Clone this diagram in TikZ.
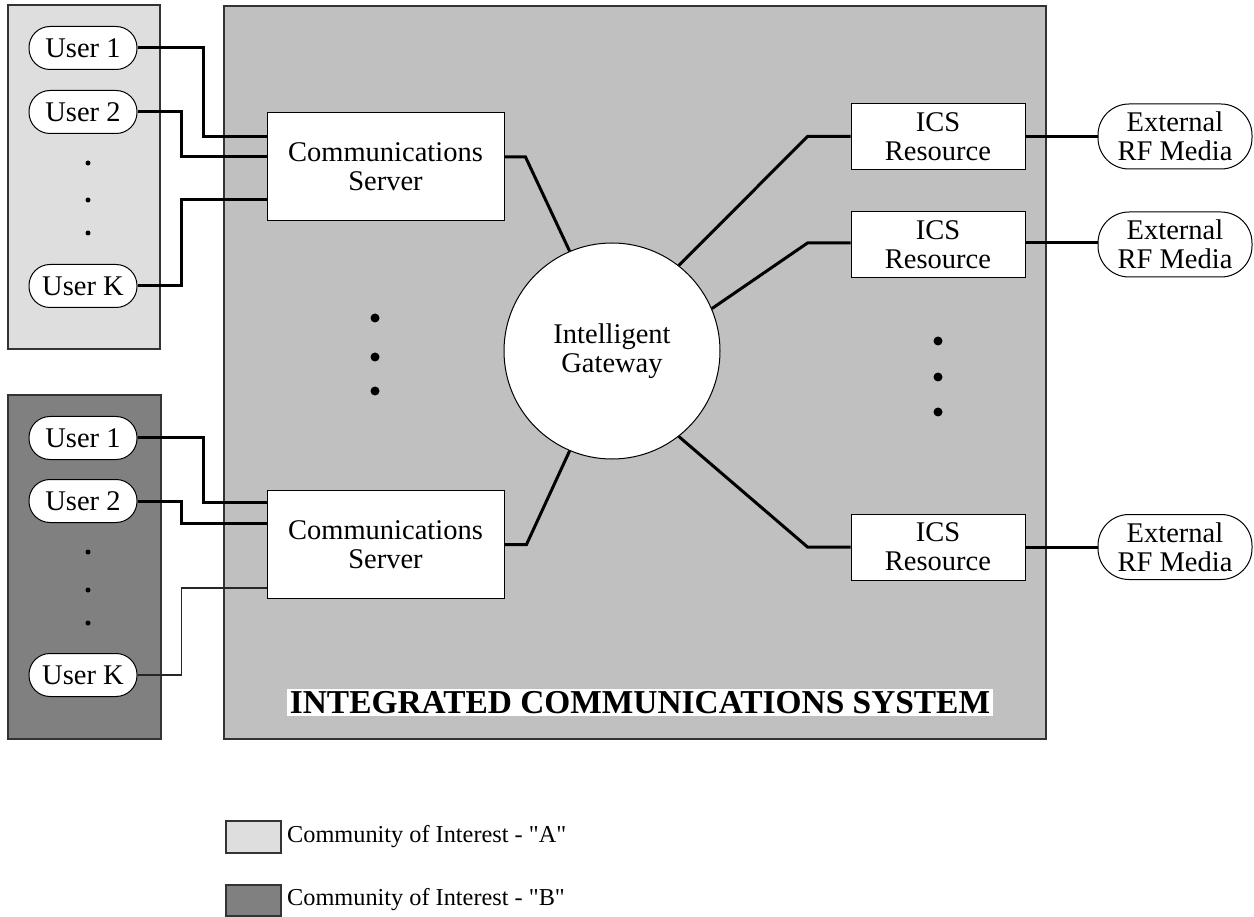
\documentclass[tikz,border=0pt]{standalone}
\usepackage{fontspec}
\setmainfont{Liberation Serif}
\usetikzlibrary{calc}
\definecolor{commA}{HTML}{DEDEDE}
\definecolor{commB}{HTML}{808080}
\definecolor{icsgray}{HTML}{C0C0C0}
\definecolor{edge}{HTML}{333333}
\newcommand{\mainfs}{\fontsize{28.5}{29}\selectfont}
\newcommand{\legfs}{\fontsize{24.3}{26}\selectfont}
\begin{document}
\begin{tikzpicture}[x=1pt,y=-1pt,
  panel/.style={draw=edge, line width=1.3pt},
  userbox/.style={draw=black, line width=1pt, fill=white, rounded corners=21pt,
    minimum width=108pt, minimum height=43pt, inner sep=0pt, font=\mainfs},
  server/.style={draw=black, line width=1pt, fill=white, minimum width=237pt,
    minimum height=108pt, inner sep=0pt, align=center, font=\mainfs},
  resbox/.style={draw=black, line width=1pt, fill=white, minimum width=174pt,
    minimum height=66pt, inner sep=0pt, align=center, font=\mainfs},
  extbox/.style={draw=black, line width=1pt, fill=white, rounded corners=31pt,
    minimum width=154pt, minimum height=65pt, inner sep=0pt, align=center, font=\mainfs},
  gate/.style={circle, draw=black, line width=1pt, fill=white, minimum size=216pt,
    inner sep=0pt, align=center, font=\mainfs},
  wire/.style={line width=3pt, black},
  thinwire/.style={line width=1.4pt, black!85},
  smalldot/.style={circle, fill=black, inner sep=0pt, minimum size=5pt},
  bigdot/.style={circle, fill=black, inner sep=0pt, minimum size=9pt},
  legbox/.style={draw=edge, line width=1.3pt}
]
\useasboundingbox (0,0) rectangle (1254,917);

% background panels
\node[panel, fill=commA, minimum width=152pt, minimum height=344pt, inner sep=0pt] (panA) at (84,177) {};
\node[panel, fill=commB, minimum width=153pt, minimum height=344pt, inner sep=0pt] (panB) at (84.5,567) {};
\node[panel, fill=icsgray, minimum width=822pt, minimum height=733pt, inner sep=0pt] (ics) at (635,372.5) {};

% title
\node[fill=white, inner sep=2.5pt, font=\bfseries\fontsize{33.4}{35}\selectfont] (title) at (640,702.5) {INTEGRATED COMMUNICATIONS SYSTEM};

% users A
\node[userbox] (u1a) at (83,48) {User 1};
\node[userbox] (u2a) at (83,112) {User 2};
\node[userbox] (uka) at (83,286) {User K};
\node[smalldot] (da1) at (88,163) {};
\node[smalldot] (da2) at (88,200) {};
\node[smalldot] (da3) at (88,233) {};

% users B
\node[userbox] (u1b) at (83,438) {User 1};
\node[userbox] (u2b) at (83,501) {User 2};
\node[userbox] (ukb) at (83,675) {User K};
\node[smalldot] (db1) at (88,552) {};
\node[smalldot] (db2) at (88,590) {};
\node[smalldot] (db3) at (88,623) {};

% servers
\node[server] (csa) at (385.5,167) {Communications\\Server};
\node[server] (csb) at (385.5,544.5) {Communications\\Server};

% gateway
\node[gate] (gw) at (612,351) {Intelligent\\Gateway};

% resources
\node[resbox] (r1) at (938,136.5) {ICS\\Resource};
\node[resbox] (r2) at (938,245) {ICS\\Resource};
\node[resbox] (r3) at (938,547) {ICS\\Resource};

% external media
\node[extbox] (e1) at (1175,136.5) {External\\RF Media};
\node[extbox] (e2) at (1175,244.5) {External\\RF Media};
\node[extbox] (e3) at (1175,547) {External\\RF Media};

% middle dots
\node[bigdot] (m1) at (375,318) {};
\node[bigdot] (m2) at (375,357) {};
\node[bigdot] (m3) at (375,391) {};
\node[bigdot] (n1) at (938,341) {};
\node[bigdot] (n2) at (938,377) {};
\node[bigdot] (n3) at (938,412) {};

% entry points on the servers
\coordinate (csa1) at ($(csa.west)+(0,-30)$);
\coordinate (csa2) at ($(csa.west)+(0,-10)$);
\coordinate (csa3) at ($(csa.west)+(0,33)$);
\coordinate (csaR) at ($(csa.east)+(0,-10)$);
\coordinate (csb1) at ($(csb.west)+(0,-42.5)$);
\coordinate (csb2) at ($(csb.west)+(0,-21.5)$);
\coordinate (csb3) at ($(csb.west)+(0,43.5)$);

% connectors A
\draw[wire] (u1a.east) -- ++(66,0) |- (csa1);
\draw[wire] (u2a.east) -- ++(44,0) |- (csa2);
\draw[wire] (uka.east) -- ++(44,0) |- (csa3);
% connectors B
\draw[wire] (u1b.east) -- ++(66,0) |- (csb1);
\draw[wire] (u2b.east) -- ++(44,0) |- (csb2);
\draw[thinwire] (ukb.east) -- ++(44,0) |- (csb3);

% servers to gateway
\draw[wire] (csaR) -- ++(21,0) -- (gw.113.6);
\draw[wire] (csb.east) -- ++(22,0) -- (gw.247);

% gateway to resources
\draw[wire] (gw.52.8) -- ($(r1.west)+(-43,0)$) -- (r1.west);
\draw[wire] (gw.23.3) -- ($(r2.west)+(-43,-2)$) -- ($(r2.west)+(0,-2)$);
\draw[wire] (gw.-52.5) -- ($(r3.west)+(-43,0)$) -- (r3.west);

% resources to external media
\draw[wire] (r1.east) -- (e1.west);
\draw[wire] ($(r2.east)+(0,-2)$) -- ($(e2.west)+(0,-1.5)$);
\draw[wire] (r3.east) -- (e3.west);

% legend
\node[legbox, fill=commA, minimum width=55pt, minimum height=32pt, inner sep=0pt] (lega) at (253.5,837) {};
\node[legbox, fill=commB, minimum width=55pt, minimum height=31pt, inner sep=0pt] (legb) at (253.5,900.5) {};
\node[anchor=west, font=\legfs, inner sep=0pt] (lta) at (287,837) {Community of Interest - \textquotedbl A\textquotedbl};
\node[anchor=west, font=\legfs, inner sep=0pt] (ltb) at (287,900) {Community of Interest - \textquotedbl B\textquotedbl};
\end{tikzpicture}
\end{document}
